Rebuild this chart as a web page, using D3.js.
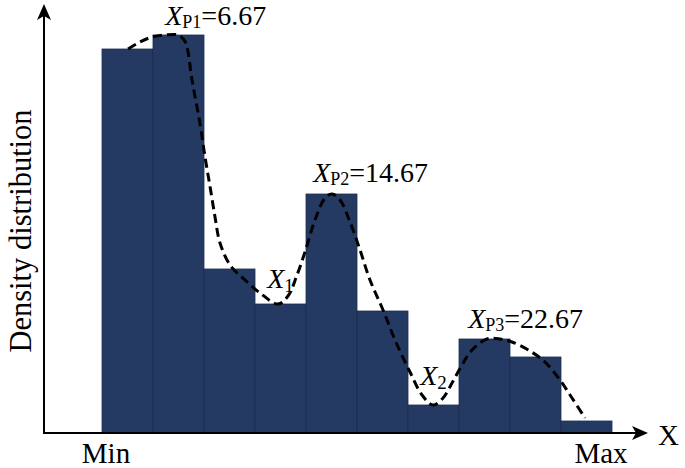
<!DOCTYPE html>
<html><head><meta charset="utf-8">
<script src="https://cdn.jsdelivr.net/npm/d3@7"></script>
<style>html,body{margin:0;padding:0;background:#fff}svg{display:block}</style>
</head><body>
<script>
// Data
const binIndex = [0,1,2,3,4,5,6,7,8,9];
const densities = [96, 99.5, 41, 32.25, 59.75, 30.5, 7, 23.5, 19, 3];
const curveX = [0.51,0.745,0.98,1.235,1.49,1.61,1.667,1.765,1.92,2.02,2.12,2.216,2.314,2.51,2.804,3.098,3.451,3.647,3.824,3.98,4.176,4.373,4.51,4.667,4.863,5.059,5.255,5.51,5.745,6.039,6.275,6.49,6.686,6.863,7.059,7.255,7.549,7.804,8.039,8.392,8.686,8.98,9.216,9.471];
const curveY = [96,97.75,99,99.5,99.5,98.25,96.5,88.25,77.5,69,61.5,54,47.5,42,38.25,35,32.25,34.25,39.5,45.25,53.25,58.75,59.75,58.25,52.75,45.75,38.25,30.75,23.25,15.25,9.5,7,8.75,12.5,17,20.75,23.5,23.5,22.75,20.5,17.75,13.25,8.75,3.75];
const peakNames = ["P1","P2","P3"];
const peakValues = ["6.67","14.67","22.67"];
const peakPos = [[1.24,102],[4.14,62.75],[7.18,26.25]];
const troughNames = ["1","2"];
const troughPos = [[3.24,36.25],[6.24,12]];
const xAxisLabels = ["Min","Max"];

const W=685,H=468;
const svg=d3.select("body").append("svg").attr("width",W).attr("height",H);
const x=d3.scaleLinear().domain([0,10]).range([102,612]);
const y=d3.scaleLinear().domain([0,100]).range([433,33]);
const serif="'Liberation Serif','Times New Roman',serif";

// bars
svg.selectAll("rect.bar").data(binIndex).join("rect")
  .attr("x",d=>x(d)).attr("width",d=>x(d+1)-x(d))
  .attr("y",d=>y(densities[d])).attr("height",d=>y(0)-y(densities[d]))
  .attr("fill","#253a63").attr("stroke","#1c2d4f").attr("stroke-width",0.8);

// axes
svg.append("line").attr("x1",43).attr("x2",636).attr("y1",y(0)).attr("y2",y(0)).attr("stroke","#000").attr("stroke-width",2);
svg.append("path").attr("d",`M648,${y(0)} L632,${y(0)-7} L636,${y(0)} L632,${y(0)+7} Z`).attr("fill","#000");
svg.append("line").attr("x1",44).attr("x2",44).attr("y1",y(0)+1).attr("y2",14).attr("stroke","#000").attr("stroke-width",2);
svg.append("path").attr("d",`M44,4 L37,20 L44,16 L51,20 Z`).attr("fill","#000");

// curve
const line=d3.line().x((d,i)=>x(curveX[i])).y((d,i)=>y(curveY[i])).curve(d3.curveCatmullRom.alpha(0.5));
svg.append("path").datum(curveX).attr("d",line).attr("fill","none")
  .attr("stroke","#000").attr("stroke-width",3).attr("stroke-dasharray","9,5");

// text
svg.append("text").attr("transform","translate(31,231) rotate(-90)").attr("text-anchor","middle")
  .attr("font-family",serif).attr("font-size",30.5).text("Density distribution");
svg.append("text").attr("x",106).attr("y",463).attr("text-anchor","middle").attr("font-family",serif).attr("font-size",29).text(xAxisLabels[0]);
svg.append("text").attr("x",601).attr("y",463).attr("text-anchor","middle").attr("font-family",serif).attr("font-size",29).text(xAxisLabels[1]);
svg.append("text").attr("x",658).attr("y",445).attr("font-family",serif).attr("font-size",29).text("X");

peakNames.forEach((n,i)=>{
  const t=svg.append("text").attr("x",x(peakPos[i][0])).attr("y",y(peakPos[i][1]))
    .attr("font-family",serif).attr("font-size",28);
  t.append("tspan").attr("font-style","italic").text("X");
  t.append("tspan").attr("font-size",18).attr("dy",3).text(n);
  t.append("tspan").attr("dy",-3).text("="+peakValues[i]);
});
troughNames.forEach((n,i)=>{
  const t=svg.append("text").attr("x",x(troughPos[i][0])).attr("y",y(troughPos[i][1]))
    .attr("font-family",serif).attr("font-size",28);
  t.append("tspan").attr("font-style","italic").text("X");
  t.append("tspan").attr("font-size",19).attr("dy",4).text(n);
});
</script>
</body></html>
